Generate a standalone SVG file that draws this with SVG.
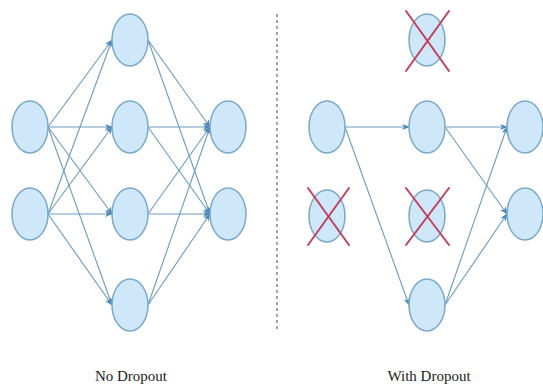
<svg xmlns="http://www.w3.org/2000/svg" width="543" height="385" viewBox="0 0 543 385">
  <style>
    .node { fill: #cfe8f9; stroke: #7aa8c8; stroke-width: 1.5; }
    .edge { stroke: #6a9bbf; stroke-width: 1.1; fill: none; marker-end: url(#arrow); }
    .drop { stroke: #c2415e; stroke-width: 2; stroke-linecap: round; }
    .label { font-family: "Liberation Serif", "Times New Roman", serif; font-size: 15px; fill: #222; text-anchor: middle; }
  </style>
  <defs>
    <marker id="arrow" viewBox="0 0 10 10" refX="9" refY="5" markerWidth="8" markerHeight="8" markerUnits="userSpaceOnUse" orient="auto">
      <path d="M0,1 L10,5 L0,9 L3,5 Z" fill="#4f88b3"/>
    </marker>
  </defs>
  <rect width="543" height="385" fill="#ffffff"/>

  <!-- connectors -->
  <g id="connectors">
    <!-- left: input -> hidden -->
    <line class="edge" x1="48" y1="127" x2="112" y2="40"/>
    <line class="edge" x1="48" y1="127" x2="112" y2="127"/>
    <line class="edge" x1="48" y1="127" x2="112" y2="214"/>
    <line class="edge" x1="48" y1="127" x2="112" y2="305"/>
    <line class="edge" x1="48" y1="214" x2="112" y2="40"/>
    <line class="edge" x1="48" y1="214" x2="112" y2="127"/>
    <line class="edge" x1="48" y1="214" x2="112" y2="214"/>
    <line class="edge" x1="48" y1="214" x2="112" y2="305"/>
    <!-- left: hidden -> output -->
    <line class="edge" x1="148" y1="40" x2="210" y2="127"/>
    <line class="edge" x1="148" y1="40" x2="210" y2="214"/>
    <line class="edge" x1="148" y1="127" x2="210" y2="127"/>
    <line class="edge" x1="148" y1="127" x2="210" y2="214"/>
    <line class="edge" x1="148" y1="214" x2="210" y2="127"/>
    <line class="edge" x1="148" y1="214" x2="210" y2="214"/>
    <line class="edge" x1="148" y1="305" x2="210" y2="127"/>
    <line class="edge" x1="148" y1="305" x2="210" y2="214"/>
    <!-- right: remaining paths -->
    <line class="edge" x1="345" y1="127" x2="409" y2="127"/>
    <line class="edge" x1="345" y1="127" x2="409" y2="305"/>
    <line class="edge" x1="445" y1="127" x2="507" y2="127"/>
    <line class="edge" x1="445" y1="127" x2="507" y2="214"/>
    <line class="edge" x1="445" y1="305" x2="507" y2="127"/>
    <line class="edge" x1="445" y1="305" x2="507" y2="214"/>
  </g>

  <!-- divider -->
  <line x1="277" y1="14" x2="277" y2="330" stroke="#666" stroke-width="1.2" stroke-dasharray="3,3"/>

  <!-- left network -->
  <g id="l-in1"><ellipse class="node" cx="30" cy="127" rx="18" ry="26"/></g>
  <g id="l-in2"><ellipse class="node" cx="30" cy="214" rx="18" ry="26"/></g>
  <g id="l-h1"><ellipse class="node" cx="130" cy="40" rx="18" ry="26"/></g>
  <g id="l-h2"><ellipse class="node" cx="130" cy="127" rx="18" ry="26"/></g>
  <g id="l-h3"><ellipse class="node" cx="130" cy="214" rx="18" ry="26"/></g>
  <g id="l-h4"><ellipse class="node" cx="130" cy="305" rx="18" ry="26"/></g>
  <g id="l-out1"><ellipse class="node" cx="228" cy="127" rx="18" ry="26"/></g>
  <g id="l-out2"><ellipse class="node" cx="228" cy="214" rx="18" ry="26"/></g>

  <!-- right network -->
  <g id="r-in1"><ellipse class="node" cx="327" cy="127" rx="18" ry="26"/></g>
  <g id="r-in2">
    <ellipse class="node" cx="327" cy="216" rx="18" ry="26"/>
    <line class="drop" x1="308" y1="188" x2="349" y2="245"/>
    <line class="drop" x1="349" y1="188" x2="308" y2="245"/>
  </g>
  <g id="r-h1">
    <ellipse class="node" cx="427" cy="40" rx="18" ry="26"/>
    <line class="drop" x1="406" y1="11" x2="449" y2="71"/>
    <line class="drop" x1="449" y1="11" x2="406" y2="71"/>
  </g>
  <g id="r-h2"><ellipse class="node" cx="427" cy="127" rx="18" ry="26"/></g>
  <g id="r-h3">
    <ellipse class="node" cx="427" cy="216" rx="18" ry="26"/>
    <line class="drop" x1="406" y1="188" x2="449" y2="245"/>
    <line class="drop" x1="449" y1="188" x2="406" y2="245"/>
  </g>
  <g id="r-h4"><ellipse class="node" cx="427" cy="305" rx="18" ry="26"/></g>
  <g id="r-out1"><ellipse class="node" cx="525" cy="127" rx="18" ry="26"/></g>
  <g id="r-out2"><ellipse class="node" cx="525" cy="214" rx="18" ry="26"/></g>

  <!-- captions -->
  <text class="label" x="131" y="381">No Dropout</text>
  <text class="label" x="429" y="381">With Dropout</text>
</svg>
